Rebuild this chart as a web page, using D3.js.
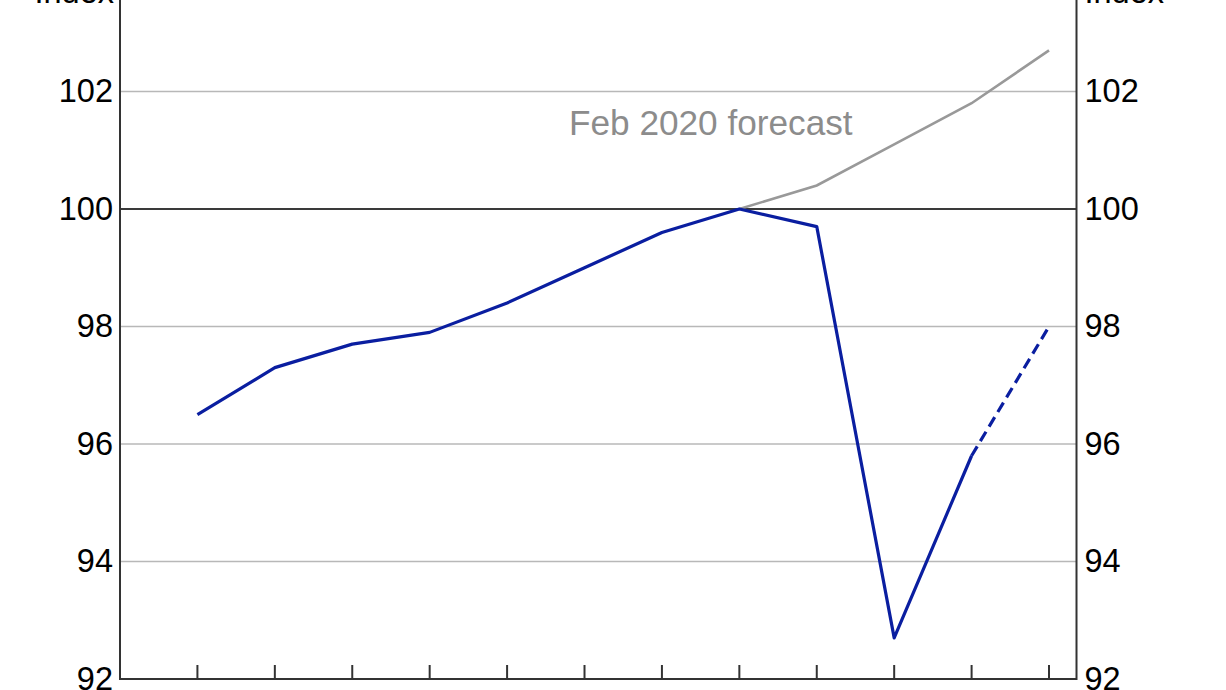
<!DOCTYPE html>
<html>
<head>
<meta charset="utf-8">
<script src="https://cdn.jsdelivr.net/npm/d3@7"></script>
<style>
  html, body { margin: 0; padding: 0; background: #fff; overflow: hidden; }
  svg { display: block; }
  text { font-family: "Liberation Sans", Arial, sans-serif; }
</style>
</head>
<body>
<svg id="chart" width="1226" height="690"></svg>
<script>
// ---- data ----
const quarters = [0, 1, 2, 3, 4, 5, 6, 7, 8, 9, 10, 11];
const actual = [96.5, 97.3, 97.7, 97.9, 98.4, 99.0, 99.6, 100.0, 99.7, 92.7, 95.8];
const projected = [null, null, null, null, null, null, null, null, null, null, 95.8, 98.0];
const forecast = [null, null, null, null, null, null, null, 100.0, 100.4, 101.1, 101.8, 102.7];
const yTicks = [92, 94, 96, 98, 100, 102];
const yLabel = "Index";
const forecastLabel = "Feb 2020 forecast";

// ---- layout ----
const svg = d3.select("#chart");
const left = 120, right = 1076.5, bottom = 679;
const x = d3.scaleLinear().domain([-1, 11.355]).range([left, right]);
const y = d3.scaleLinear().domain([92, 104]).range([bottom, bottom - 12 * 58.75]);

const g = svg.append("g");

// gridlines
g.selectAll("line.grid").data(yTicks.filter(d => d !== 92 && d !== 100))
  .enter().append("line")
  .attr("x1", left).attr("x2", right)
  .attr("y1", d => y(d)).attr("y2", d => y(d))
  .attr("stroke", "#b8b8b8").attr("stroke-width", 1.6);

// 100 line
g.append("line")
  .attr("x1", left).attr("x2", right)
  .attr("y1", y(100)).attr("y2", y(100))
  .attr("stroke", "#3a3a3a").attr("stroke-width", 2);

// frame
g.append("rect")
  .attr("x", left).attr("y", y(104))
  .attr("width", right - left).attr("height", y(92) - y(104))
  .attr("fill", "none").attr("stroke", "#333").attr("stroke-width", 2);

// x ticks (inward)
g.selectAll("line.xt").data(quarters).enter().append("line")
  .attr("x1", d => x(d)).attr("x2", d => x(d))
  .attr("y1", bottom).attr("y2", bottom - 14)
  .attr("stroke", "#333").attr("stroke-width", 2);

// y axis labels
const fs = 32.5;
const yAxisL = d3.axisLeft(y).tickValues(yTicks).tickSize(0).tickPadding(7).tickFormat(d3.format("d"));
const yAxisR = d3.axisRight(y).tickValues(yTicks).tickSize(0).tickPadding(8).tickFormat(d3.format("d"));
const gl = svg.append("g").attr("transform", `translate(${left},0)`).call(yAxisL);
const gr = svg.append("g").attr("transform", `translate(${right},0)`).call(yAxisR);
[gl, gr].forEach(a => {
  a.select(".domain").remove();
  a.selectAll("text").attr("font-size", fs).attr("fill", "#000")
    .attr("font-family", "'Liberation Sans', Arial, sans-serif");
});

// Index labels
svg.append("text").attr("x", left - 6).attr("y", 3).attr("text-anchor", "end")
  .attr("font-size", fs).attr("fill", "#000").text(yLabel);
svg.append("text").attr("x", right + 8).attr("y", 3).attr("text-anchor", "start")
  .attr("font-size", fs).attr("fill", "#000").text(yLabel);

// lines
const line = d3.line().defined(d => d[1] != null).x(d => x(d[0])).y(d => y(d[1]));

g.append("path")
  .datum(quarters.map((q, i) => [q, forecast[i]]))
  .attr("d", line).attr("fill", "none")
  .attr("stroke", "#999").attr("stroke-width", 2.6);

g.append("path")
  .datum(quarters.map((q, i) => [q, projected[i]]))
  .attr("d", line).attr("fill", "none")
  .attr("stroke", "#0a1ea0").attr("stroke-width", 3.2)
  .attr("stroke-dasharray", "11,6");

g.append("path")
  .datum(quarters.slice(0, actual.length).map((q, i) => [q, actual[i]]))
  .attr("d", line).attr("fill", "none")
  .attr("stroke", "#0a1ea0").attr("stroke-width", 3.2)
  .attr("stroke-linejoin", "round");

// forecast label
svg.append("text").attr("x", 569).attr("y", 135)
  .attr("font-size", 35.2).attr("fill", "#8c8c8c").text(forecastLabel);
</script>
</body>
</html>
